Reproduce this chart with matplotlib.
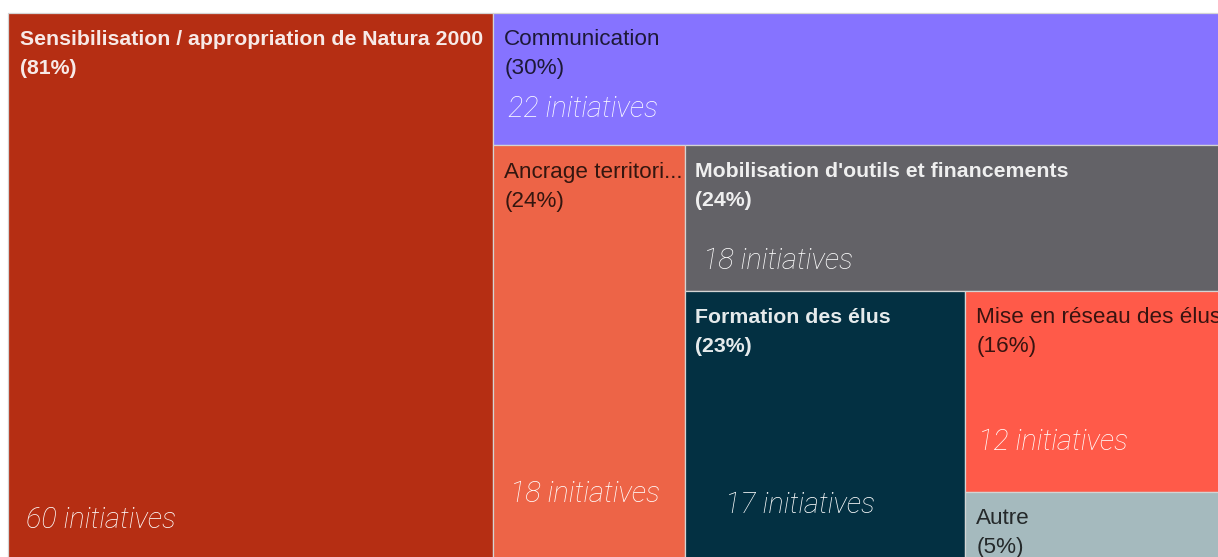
import matplotlib
matplotlib.use("Agg")
import matplotlib.pyplot as plt
from matplotlib.patches import Rectangle

# ---- data ----
categories = [
    "Sensibilisation / appropriation de Natura 2000",
    "Communication",
    "Ancrage territorial",
    "Mobilisation d'outils et financements",
    "Formation des élus",
    "Mise en réseau des élus",
    "Autre",
]
display_names = [
    "Sensibilisation / appropriation de Natura 2000",
    "Communication",
    "Ancrage territori...",
    "Mobilisation d'outils et financements",
    "Formation des élus",
    "Mise en réseau des élus",
    "Autre",
]
initiatives = [60, 22, 18, 18, 17, 12, 4]
percents = [81, 30, 24, 24, 23, 16, 5]

# ---- style ----
colors = ["#b52e13", "#8673ff", "#ed6447", "#636267", "#033042", "#ff5a49", "#a5babe"]
dark_bg = [True, False, False, True, True, False, False]
# label offsets (pixels from rect top-left): x, baseline of first line
label_off = [(12, 32), (11, 32), (11, 33), (10, 32), (10, 32), (11, 32), (11, 32)]
line_gap = 29
count_off = [(18, 515), (15, 104), (17, 357), (18, 124), (40, 222), (13, 159), None]


def slice_layout(values, x, y, w, h):
    rects = []
    remaining = float(sum(values))
    vertical = True
    for v in values:
        f = v / remaining
        if vertical:
            rw = w * f
            rects.append((x, y, rw, h))
            x += rw
            w -= rw
        else:
            rh = h * f
            rects.append((x, y, w, rh))
            y += rh
            h -= rh
        remaining -= v
        vertical = not vertical
    return rects


W, H = 1218, 557
fig = plt.figure(figsize=(W / 100, H / 100), dpi=100)
fig.patch.set_facecolor("white")
# treemap domain (extends slightly beyond the visible canvas, as in the original crop)
x0, y0, tw, th = 8, 13, 1221, 546
ax = fig.add_axes([x0 / W, 1 - (y0 + th) / H, tw / W, th / H])
ax.set_xlim(0, 1)
ax.set_ylim(1, 0)
ax.axis("off")

rects = slice_layout(initiatives, 0.0, 0.0, 1.0, 1.0)
for i, (rx, ry, rw, rh) in enumerate(rects):
    ax.add_patch(Rectangle((rx, ry), rw, rh, facecolor=colors[i],
                           edgecolor="#d4d4d4", linewidth=0.9, clip_on=False))
    if dark_bg[i]:
        tc, fw, al, fs = "white", "bold", 0.9, 15.3
    else:
        tc, fw, al, fs = "black", "normal", 0.78, 16.2
    dx, dy = label_off[i]
    for k, txt in enumerate([display_names[i], f"({percents[i]}%)"]):
        ax.annotate(txt, xy=(rx, ry),
                    xytext=(dx, -(dy + k * line_gap)), textcoords="offset pixels",
                    ha="left", va="baseline", fontsize=fs, fontweight=fw,
                    color=tc, alpha=al, family="Liberation Sans",
                    annotation_clip=False)
    if count_off[i] is not None:
        cx, cy = count_off[i]
        ax.annotate(f"{initiatives[i]} initiatives", xy=(rx, ry),
                    xytext=(cx, -cy), textcoords="offset pixels",
                    ha="left", va="baseline", fontsize=20.8, style="italic",
                    fontweight="light", color="white", family="Roboto",
                    annotation_clip=False)

fig.savefig("out.png", dpi=100, facecolor="white")
